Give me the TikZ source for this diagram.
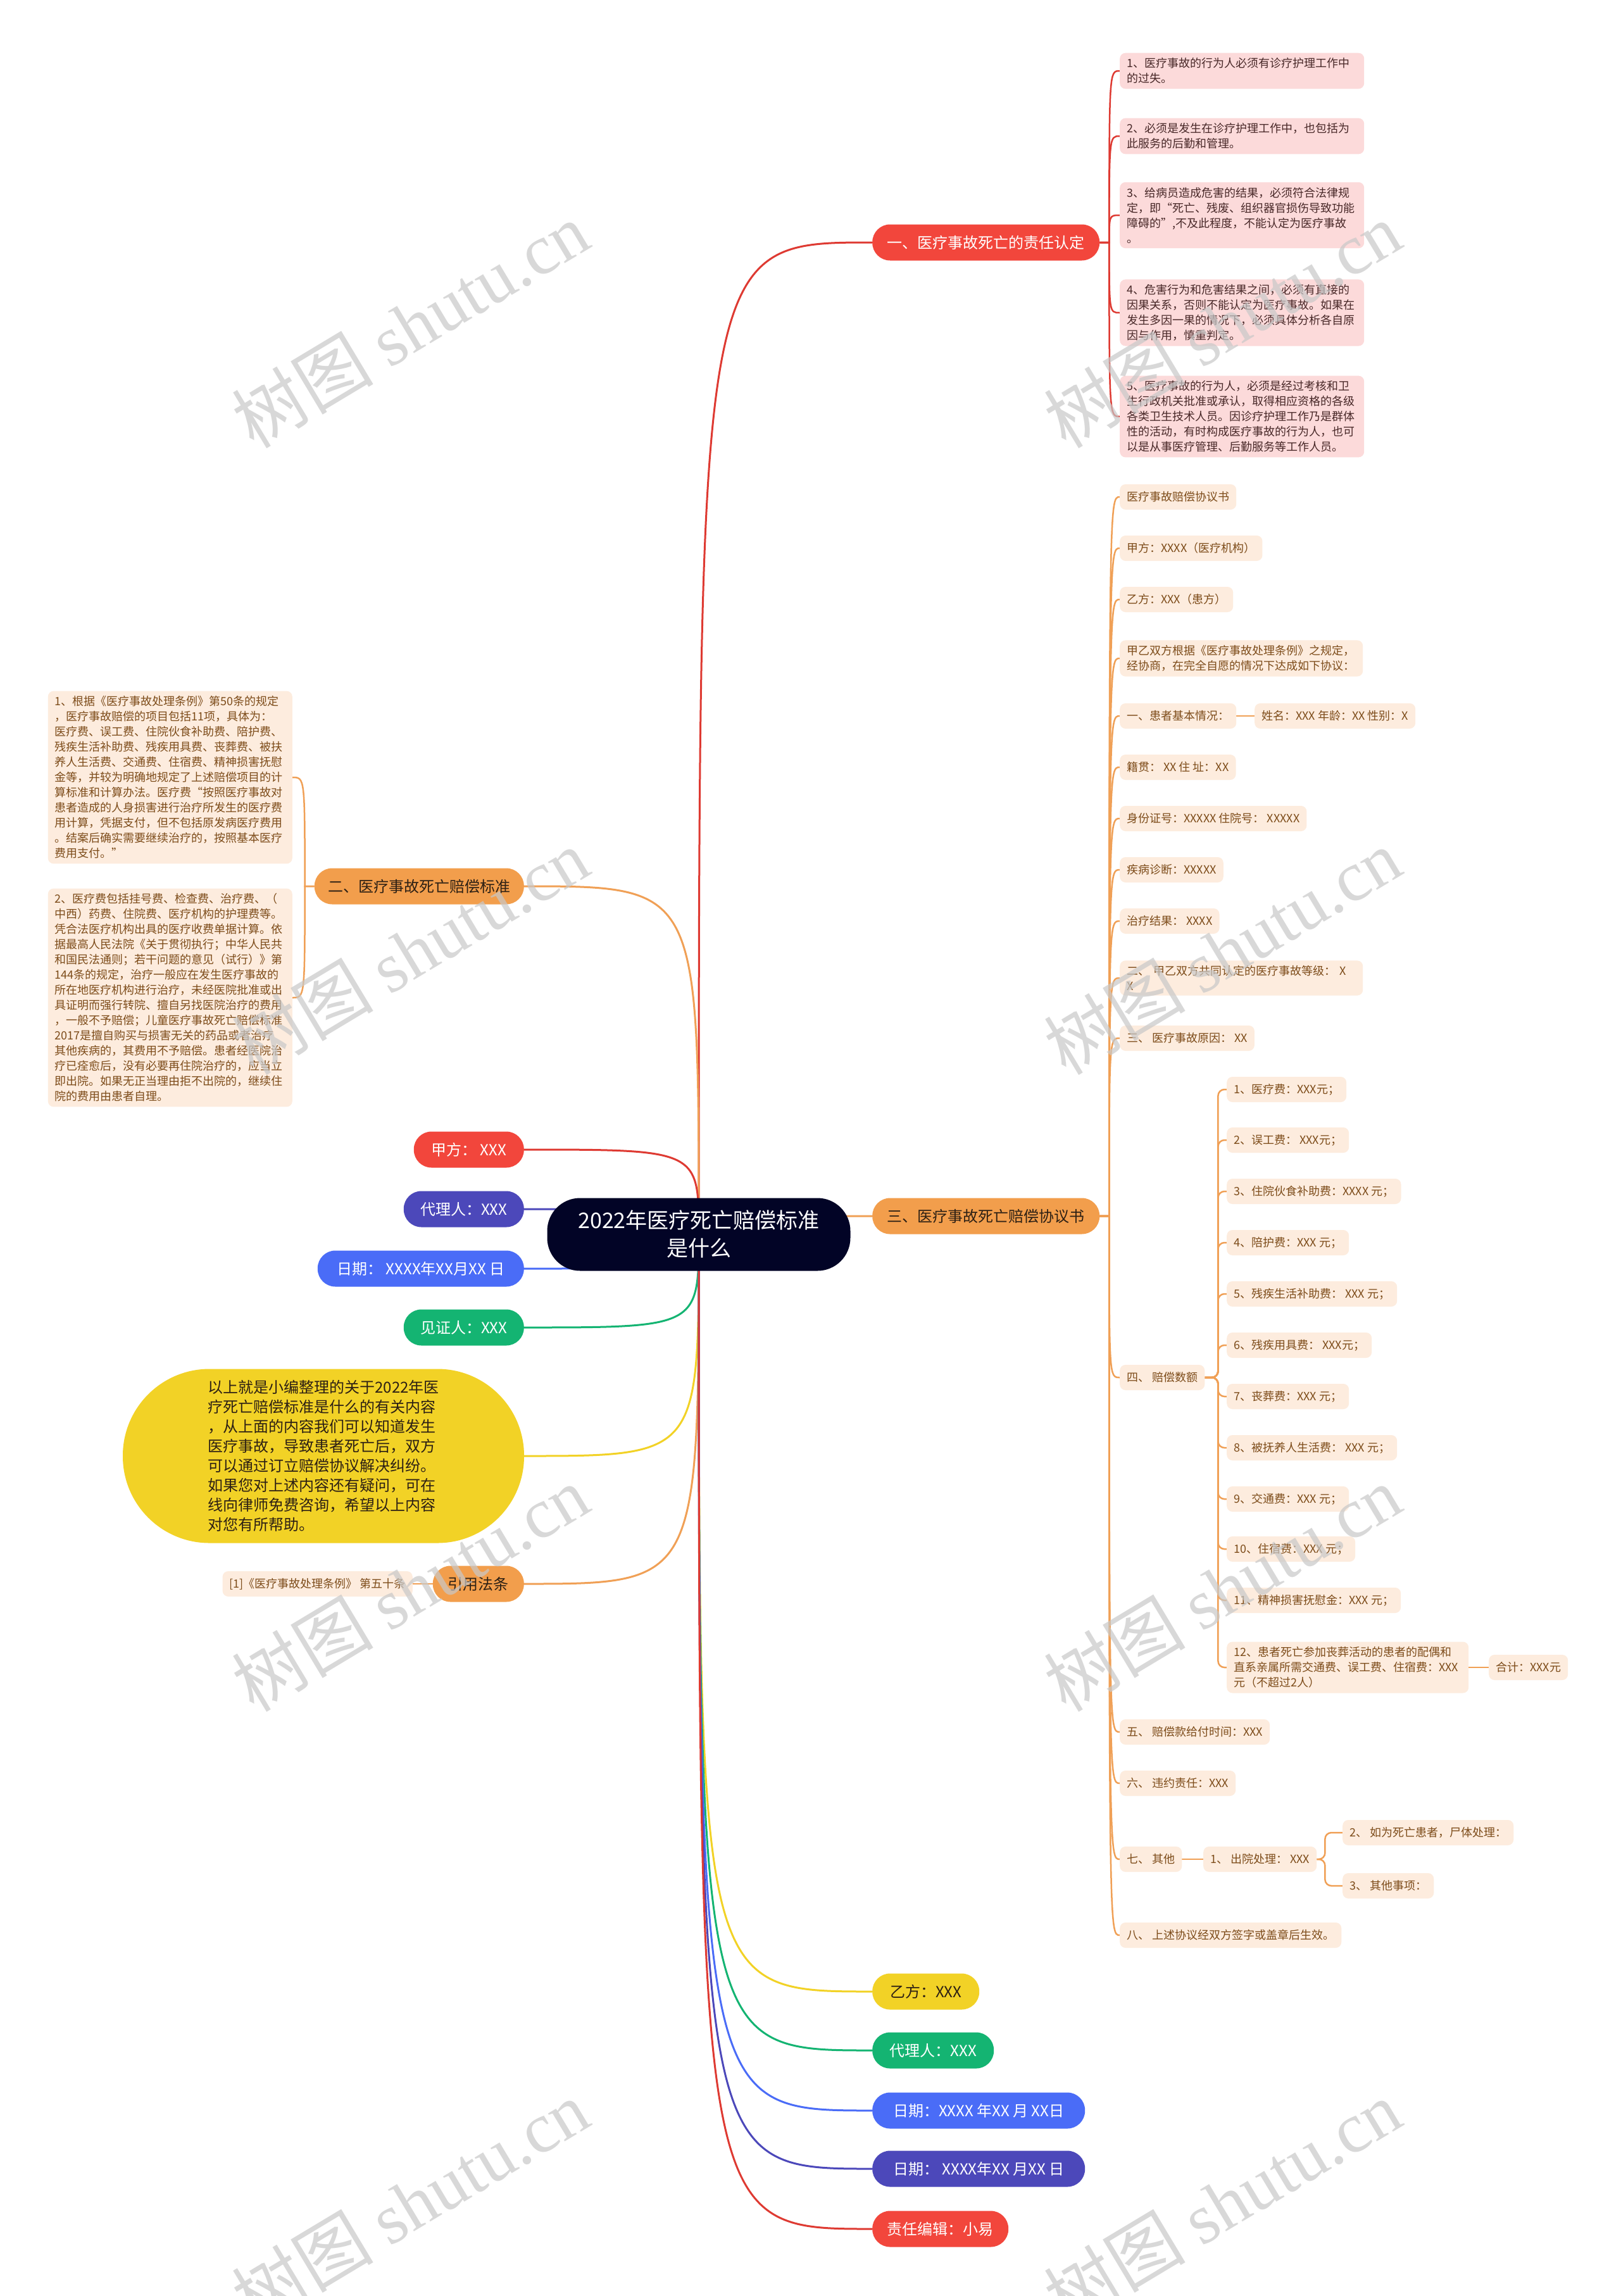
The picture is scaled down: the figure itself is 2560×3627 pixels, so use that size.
\documentclass[tikz,border=0pt]{standalone}
\usepackage{fontspec}
\setmainfont{Noto Sans CJK SC}
\newfontfamily\wmserif{Liberation Serif}
\usetikzlibrary{backgrounds,calc}
\definecolor{rootc}{RGB}{2,4,38}
\definecolor{redc}{RGB}{242,70,60}
\definecolor{redl}{RGB}{222,58,50}
\definecolor{orgc}{RGB}{242,158,76}
\definecolor{orgl}{RGB}{240,160,86}
\definecolor{indc}{RGB}{76,72,186}
\definecolor{bluc}{RGB}{74,108,247}
\definecolor{grnc}{RGB}{20,180,114}
\definecolor{yelc}{RGB}{242,210,38}
\definecolor{peach}{RGB}{253,236,222}
\definecolor{pinkf}{RGB}{252,218,218}
\definecolor{brownt}{RGB}{125,76,26}
\definecolor{pinkt}{RGB}{72,40,40}
\definecolor{darkt}{RGB}{45,32,20}
\definecolor{wmc}{RGB}{200,200,200}
\tikzset{
 rootnode/.style={fill=rootc, text=white, rounded corners=52pt, minimum width=479pt, minimum height=115pt, align=center, font=\fontsize{34}{44}\selectfont},
 pill/.style={rounded corners=28pt, minimum height=57pt, inner xsep=18pt, font=\fontsize{24}{30}\selectfont, align=center},
 leafb/.style={fill=peach, text=brownt, rounded corners=9pt, minimum height=40pt, inner xsep=11pt, inner ysep=8pt, align=left, font=\fontsize{18}{24}\selectfont},
 pleaf/.style={leafb, fill=pinkf, text=pinkt},
 conn/.style={line width=3pt},
 subc/.style={line width=2.5pt},
 wm/.style={rotate=31, text=wmc, opacity=0.7, font=\fontsize{112}{112}\selectfont},
}
\begin{document}
\begin{tikzpicture}[x=1pt,y=-1pt]
\useasboundingbox (0,0) rectangle (2560,3627);
% root
\node[rootnode] (root) at (1104,1950) {2022年医疗死亡赔偿标准\\是什么};
% main branches right
\node[pill, fill=redc, text=white, minimum width=359pt, anchor=west] (b1) at (1378,383) {一、医疗事故死亡的责任认定};
\node[pill, fill=orgc, text=darkt, minimum width=359pt, anchor=west] (b3) at (1378,1921) {三、医疗事故死亡赔偿协议书};
% left branches
\node[pill, fill=orgc, text=darkt, minimum width=331pt, anchor=east] (b2) at (828,1400) {二、医疗事故死亡赔偿标准};
\node[pill, fill=redc, text=white, minimum width=174pt, anchor=east] (jia) at (828,1816) {甲方： XXX};
\node[pill, fill=indc, text=white, minimum width=190pt, anchor=east] (dl1) at (828,1910) {代理人：XXX};
\node[pill, fill=bluc, text=white, minimum width=326pt, anchor=east] (rq1) at (828,2004) {日期： XXXX年XX月XX 日};
\node[pill, fill=grnc, text=white, minimum width=190pt, anchor=east] (jz) at (828,2097) {见证人：XXX};
\node[fill=yelc, text=darkt, rounded corners=137pt, minimum width=634pt, minimum height=275pt, text width=365pt, align=left, font=\fontsize{24}{31}\selectfont] (sum) at (511,2300) {以上就是小编整理的关于2022年医\\疗死亡赔偿标准是什么的有关内容\\，从上面的内容我们可以知道发生\\医疗事故，导致患者死亡后，双方\\可以通过订立赔偿协议解决纠纷。\\如果您对上述内容还有疑问，可在\\线向律师免费咨询，希望以上内容\\对您有所帮助。};
\node[pill, fill=orgc, text=darkt, minimum width=144pt, anchor=east] (yy) at (828,2502) {引用法条};
\node[leafb, anchor=east] (yy1) at (652,2502) {[1]《医疗事故处理条例》 第五十条};
% bottom right
\node[pill, fill=yelc, text=darkt, minimum width=169pt, anchor=west] (yi) at (1378,3146) {乙方：XXX};
\node[pill, fill=grnc, text=white, minimum width=192pt, anchor=west] (dl2) at (1378,3239) {代理人：XXX};
\node[pill, fill=bluc, text=white, minimum width=336pt, anchor=west] (rq2) at (1378,3334) {日期：XXXX 年XX 月 XX日};
\node[pill, fill=indc, text=white, minimum width=336pt, anchor=west] (rq3) at (1378,3426) {日期： XXXX年XX 月XX 日};
\node[pill, fill=redc, text=white, minimum width=215pt, anchor=west] (zr) at (1378,3521) {责任编辑：小易};
% pink leaves of b1
\node[pleaf, text width=364pt, anchor=west] (p1) at (1769,112) {1、医疗事故的行为人必须有诊疗护理工作中\\的过失。};
\node[pleaf, text width=364pt, anchor=west] (p2) at (1769,215) {2、必须是发生在诊疗护理工作中，也包括为\\此服务的后勤和管理。};
\node[pleaf, text width=364pt, anchor=west] (p3) at (1769,340) {3、给病员造成危害的结果，必须符合法律规\\定，即“死亡、残废、组织器官损伤导致功能\\障碍的”,不及此程度，不能认定为医疗事故\\。};
\node[pleaf, text width=364pt, anchor=west] (p4) at (1769,494) {4、危害行为和危害结果之间，必须有直接的\\因果关系，否则不能认定为医疗事故。如果在\\发生多因一果的情况下，必须具体分析各自原\\因与作用，慎重判定。};
\node[pleaf, text width=364pt, anchor=west] (p5) at (1769,658) {5、医疗事故的行为人，必须是经过考核和卫\\生行政机关批准或承认，取得相应资格的各级\\各类卫生技术人员。因诊疗护理工作乃是群体\\性的活动，有时构成医疗事故的行为人，也可\\以是从事医疗管理、后勤服务等工作人员。};
% left leaves of b2
\node[leafb, text width=364pt, anchor=east] (s1) at (462,1228) {1、根据《医疗事故处理条例》第50条的规定\\，医疗事故赔偿的项目包括11项，具体为：\\医疗费、误工费、住院伙食补助费、陪护费、\\残疾生活补助费、残疾用具费、丧葬费、被扶\\养人生活费、交通费、住宿费、精神损害抚慰\\金等，并较为明确地规定了上述赔偿项目的计\\算标准和计算办法。医疗费“按照医疗事故对\\患者造成的人身损害进行治疗所发生的医疗费\\用计算，凭据支付，但不包括原发病医疗费用\\。结案后确实需要继续治疗的，按照基本医疗\\费用支付。”};
\node[leafb, text width=364pt, anchor=east] (s2) at (462,1576) {2、医疗费包括挂号费、检查费、治疗费、（\\中西）药费、住院费、医疗机构的护理费等。\\凭合法医疗机构出具的医疗收费单据计算。依\\据最高人民法院《关于贯彻执行；中华人民共\\和国民法通则；若干问题的意见（试行）》第\\144条的规定，治疗一般应在发生医疗事故的\\所在地医疗机构进行治疗，未经医院批准或出\\具证明而强行转院、擅自另找医院治疗的费用\\，一般不予赔偿；儿童医疗事故死亡赔偿标准\\2017是擅自购买与损害无关的药品或者治疗\\其他疾病的，其费用不予赔偿。患者经医院治\\疗已痊愈后，没有必要再住院治疗的，应当立\\即出院。如果无正当理由拒不出院的，继续住\\院的费用由患者自理。};
% leaves of b3
\node[leafb, anchor=west] (a1) at (1769,785) {医疗事故赔偿协议书};
\node[leafb, anchor=west] (a2) at (1769,866) {甲方：XXXX（医疗机构）};
\node[leafb, anchor=west] (a3) at (1769,947) {乙方：XXX（患方）};
\node[leafb, text width=362pt, anchor=west] (a4) at (1769,1040) {甲乙双方根据《医疗事故处理条例》之规定，\\经协商，在完全自愿的情况下达成如下协议：};
\node[leafb, anchor=west] (a5) at (1769,1131) {一、患者基本情况：};
\node[leafb, anchor=west] (a5c) at (1982,1131) {姓名：XXX 年龄：XX 性别：X};
\node[leafb, anchor=west] (a6) at (1769,1212) {籍贯： XX 住 址：XX};
\node[leafb, anchor=west] (a7) at (1769,1293) {身份证号：XXXXX 住院号： XXXXX};
\node[leafb, anchor=west] (a8) at (1769,1374) {疾病诊断：XXXXX};
\node[leafb, anchor=west] (a9) at (1769,1455) {治疗结果： XXXX};
\node[leafb, text width=362pt, anchor=west] (a10) at (1769,1545) {二、 甲乙双方共同认定的医疗事故等级： X\\X};
\node[leafb, anchor=west] (a11) at (1769,1640) {三、 医疗事故原因： XX};
\node[leafb, anchor=west] (a12) at (1769,2176) {四、 赔偿数额};
\node[leafb, anchor=west] (a13) at (1769,2736) {五、 赔偿款给付时间：XXX};
\node[leafb, anchor=west] (a14) at (1769,2817) {六、 违约责任：XXX};
\node[leafb, anchor=west] (a15) at (1769,2937) {七、 其他};
\node[leafb, anchor=west] (a16) at (1769,3057) {八、 上述协议经双方签字或盖章后生效。};
% children of a12
\node[leafb, anchor=west] (c1) at (1938,1721) {1、医疗费：XXX元；};
\node[leafb, anchor=west] (c2) at (1938,1801) {2、误工费： XXX元；};
\node[leafb, anchor=west] (c3) at (1938,1882) {3、住院伙食补助费：XXXX 元；};
\node[leafb, anchor=west] (c4) at (1938,1963) {4、陪护费：XXX 元；};
\node[leafb, anchor=west] (c5) at (1938,2044) {5、残疾生活补助费： XXX 元；};
\node[leafb, anchor=west] (c6) at (1938,2125) {6、残疾用具费： XXX元；};
\node[leafb, anchor=west] (c7) at (1938,2206) {7、丧葬费：XXX 元；};
\node[leafb, anchor=west] (c8) at (1938,2287) {8、被抚养人生活费： XXX 元；};
\node[leafb, anchor=west] (c9) at (1938,2368) {9、交通费：XXX 元；};
\node[leafb, anchor=west] (c10) at (1938,2447) {10、住宿费：XXX 元；};
\node[leafb, anchor=west] (c11) at (1938,2528) {11、精神损害抚慰金：XXX 元；};
\node[leafb, text width=360pt, anchor=west] (c12) at (1938,2634) {12、患者死亡参加丧葬活动的患者的配偶和\\直系亲属所需交通费、误工费、住宿费：XXX\\元（不超过2人）};
\node[leafb, anchor=west] (c12s) at (2352,2634) {合计：XXX元};
% children of a15
\node[leafb, anchor=west] (o1) at (1901,2937) {1、 出院处理： XXX};
\node[leafb, anchor=west] (g2) at (2121,2895) {2、 如为死亡患者，尸体处理：};
\node[leafb, anchor=west] (g3) at (2121,2979) {3、 其他事项：};
% connectors
\begin{scope}[on background layer]
\fill[white] (0,0) rectangle (2560,3627);
\draw[conn, redl] (root.center) .. controls (root.center |- b1.west) .. (b1.west);
\draw[conn, orgl] (root.center) .. controls (root.center |- b3.west) .. (b3.west);
\draw[conn, orgl] (root.center) .. controls (root.center |- b2.east) .. (b2.east);
\draw[conn, redl] (root.center) .. controls (root.center |- jia.east) .. (jia.east);
\draw[conn, indc] (root.center) .. controls (root.center |- dl1.east) .. (dl1.east);
\draw[conn, bluc] (root.center) .. controls (root.center |- rq1.east) .. (rq1.east);
\draw[conn, grnc] (root.center) .. controls (root.center |- jz.east) .. (jz.east);
\draw[conn, yelc] (root.center) .. controls (root.center |- sum.east) .. (sum.east);
\draw[conn, orgl] (root.center) .. controls (root.center |- yy.east) .. (yy.east);
\draw[conn, yelc] (root.center) .. controls (root.center |- yi.west) .. (yi.west);
\draw[conn, grnc] (root.center) .. controls (root.center |- dl2.west) .. (dl2.west);
\draw[conn, bluc] (root.center) .. controls (root.center |- rq2.west) .. (rq2.west);
\draw[conn, indc] (root.center) .. controls (root.center |- rq3.west) .. (rq3.west);
\draw[conn, redl] (root.center) .. controls (root.center |- zr.west) .. (zr.west);
\draw[subc, orgl] (yy.west) -- (yy1.east);
% b1 leaves
\coordinate (k1) at ($(b1.east)+(15,0)$);
\foreach \n in {p1,p2,p3,p4,p5}
  \draw[subc, redl] (b1.east) -- (k1) .. controls (k1 |- \n.west) .. (\n.west);
% b2 leaves
\coordinate (k2) at ($(b2.west)+(-15,0)$);
\foreach \n in {s1,s2}
  \draw[subc, orgl] (b2.west) -- (k2) .. controls (k2 |- \n.east) .. (\n.east);
% b3 leaves
\coordinate (k3) at ($(b3.east)+(15,0)$);
\foreach \n in {a1,a2,a3,a4,a5,a6,a7,a8,a9,a10,a11,a12,a13,a14,a15,a16}
  \draw[subc, orgl] (b3.east) -- (k3) .. controls (k3 |- \n.west) .. (\n.west);
\draw[subc, orgl] (a5.east) -- (a5c.west);
\coordinate (k4) at ($(a12.east)+(21,0)$);
\foreach \n in {c1,c2,c3,c4,c5,c6,c7,c8,c9,c10,c11,c12}
  \draw[subc, orgl, rounded corners=10pt] (a12.east) -- (k4) |- (\n.west);
\draw[subc, orgl] (c12.east) -- (c12s.west);
\draw[subc, orgl] (a15.east) -- (o1.west);
\coordinate (k7) at ($(o1.east)+(13,0)$);
\foreach \n in {g2,g3}
  \draw[subc, orgl, rounded corners=10pt] (o1.east) -- (k7) |- (\n.west);
\end{scope}
% watermarks
\foreach \x/\y [count=\i] in {648/513, 1931/513, 648/1503, 1931/1503, 648/2509, 1931/2509, 648/3480, 1931/3480}
  \node[wm] (wm\i) at (\x,\y) {树图 {\wmserif shutu.cn}};
\end{tikzpicture}
\end{document}
